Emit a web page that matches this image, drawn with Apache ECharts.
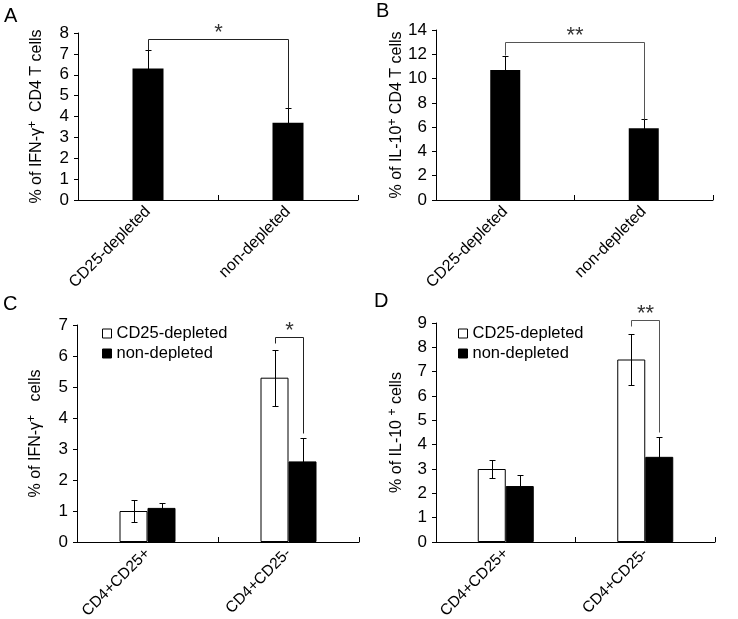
<!DOCTYPE html>
<html>
<head>
<meta charset="utf-8">
<script src="https://cdn.jsdelivr.net/npm/echarts@6/dist/echarts.min.js"></script>
<style>
html,body{margin:0;padding:0;background:#fff;}
#main{width:738px;height:619px;}
</style>
</head>
<body>
<div id="main"></div>
<script>
// ---- data ----
const catsAB = ['CD25-depleted', 'non-depleted'];
const aMean = [6.3, 3.7];
const aErr = [0.9, 0.7];
const bMean = [10.7, 5.9];
const bErr = [1.2, 0.8];

const catsCD = ['CD4+CD25+', 'CD4+CD25-'];
const seriesNames = ['CD25-depleted', 'non-depleted'];
const cDepleted = [1.0, 5.3];
const cDepletedErr = [0.36, 0.9];
const cNon = [1.1, 2.6];
const cNonErr = [0.15, 0.74];
const dDepleted = [3.0, 7.5];
const dDepletedErr = [0.35, 1.05];
const dNon = [2.3, 3.5];
const dNonErr = [0.44, 0.8];

// significance brackets: [leftCat, rightCat, level, leftEnd, rightEnd]
const bracketA = [0, 1, 7.7, 7.2, 4.4];
const bracketB = [0, 1, 13.0, 11.95, 6.7];
const bracketC = [1, 1, 6.62, 6.41, 3.52];
const bracketD = [1, 1, 9.14, 8.86, 4.53];
const sigA = '*', sigB = '**', sigC = '*', sigD = '**';

const yMaxA = 8, yMaxB = 14, yMaxC = 7, yMaxD = 9;
const yStepA = 1, yStepB = 2, yStepC = 1, yStepD = 1;

// ---- styles ----
const FONT = 'Liberation Sans, Arial, sans-serif';
const BW_AB = 31, BW_CD = 28;

function px(v){ return Math.round(v) + 0.5; }

function errRender(offset){
  return function(params, api){
    const i = api.value(0), m = api.value(1), e = api.value(2);
    const x = px(api.coord([i, m])[0] + offset);
    const top = px(api.coord([i, m + e])[1]);
    const bot = px(api.coord([i, m - e])[1]);
    return {type:'group', children:[
      {type:'line', shape:{x1:x, y1:top, x2:x, y2:bot}, style:{stroke:'#000', lineWidth:1}},
      {type:'line', shape:{x1:x-3, y1:top, x2:x+3, y2:top}, style:{stroke:'#000', lineWidth:1}},
      {type:'line', shape:{x1:x-3, y1:bot, x2:x+3, y2:bot}, style:{stroke:'#000', lineWidth:1}}
    ]};
  };
}

function bracketRender(offL, offR, label, color){
  return function(params, api){
    const li = api.value(0), ri = api.value(1), lev = api.value(2), le = api.value(3), re = api.value(4);
    const xl = px(api.coord([li, lev])[0] + offL);
    const xr = px(api.coord([ri, lev])[0] + offR);
    const y = px(api.coord([li, lev])[1]);
    const yl = px(api.coord([li, le])[1]);
    const yr = px(api.coord([ri, re])[1]);
    return {type:'group', children:[
      {type:'polyline', shape:{points:[[xl,yl],[xl,y],[xr,y],[xr,yr]]}, style:{stroke:color, fill:'none', lineWidth:1}},
      {type:'text', style:{text:label, x:(xl+xr)/2, y:y+4, align:'center', verticalAlign:'bottom', fontSize:22, fontFamily:FONT, fill:'#333'}}
    ]};
  };
}

function errData(cats, mean, err){ return cats.map((c,i)=>[i, mean[i], err[i]]); }

function xAx(idx, cats, fs){
  return {
    type:'category', gridIndex:idx, data:cats,
    axisLine:{show:true, lineStyle:{color:'#000', width:1}},
    axisTick:{show:true, inside:true, length:5, lineStyle:{color:'#000'}},
    axisLabel:{rotate:45, fontSize:fs, color:'#000', fontFamily:FONT, margin:9},
    splitLine:{show:false}
  };
}
function yAx(idx, max, step, name, gap){
  return {
    type:'value', gridIndex:idx, min:0, max:max, interval:step,
    name:name, nameLocation:'middle', nameRotate:90, nameGap:gap,
    nameTextStyle:{fontSize:16, color:'#000', fontFamily:FONT,
      rich:{sup:{fontSize:12, color:'#000', fontFamily:FONT, verticalAlign:'top', lineHeight:20},
            n:{fontSize:16, color:'#000', fontFamily:FONT, lineHeight:20}}},
    axisLine:{show:true, lineStyle:{color:'#000', width:1}},
    axisTick:{show:true, inside:false, length:4, lineStyle:{color:'#000'}},
    axisLabel:{fontSize:17, color:'#000', fontFamily:FONT, margin:9},
    splitLine:{show:false}
  };
}

const chart = echarts.init(document.getElementById('main'), null, {renderer:'canvas'});
const titleStyle = {fontSize:20, fontWeight:'normal', color:'#000', fontFamily:FONT};
const legendItems = [
  {name:seriesNames[0], itemStyle:{color:'#fff', borderColor:'#000', borderWidth:1}},
  {name:seriesNames[1], itemStyle:{color:'#000', borderColor:'#000', borderWidth:1}}
];
const legendBase = {orient:'vertical', icon:'rect', itemWidth:9, itemHeight:9, itemGap:3, padding:0,
  textStyle:{fontSize:16.5, color:'#000', fontFamily:FONT}, data:legendItems, selectedMode:false};

const gridBase = {outerBoundsMode:'none', containLabel:false};

const option = {
  animation:false,
  backgroundColor:'#fff',
  textStyle:{fontFamily:FONT},
  title:[
    {text:'A', left:4, top:6, padding:0, textStyle:titleStyle},
    {text:'B', left:376, top:1, padding:0, textStyle:titleStyle},
    {text:'C', left:3, top:294, padding:0, textStyle:titleStyle},
    {text:'D', left:374, top:291, padding:0, textStyle:titleStyle}
  ],
  legend:[
    Object.assign({left:102, top:325}, legendBase),
    Object.assign({left:458, top:325}, legendBase)
  ],
  grid:[
    Object.assign({left:78, top:33, width:280, height:167}, gridBase),
    Object.assign({left:436, top:30, width:277, height:170}, gridBase),
    Object.assign({left:77, top:325, width:282, height:217}, gridBase),
    Object.assign({left:436, top:323, width:279, height:219}, gridBase)
  ],
  xAxis:[xAx(0,catsAB,16), xAx(1,catsAB,16), xAx(2,catsCD,15.5), xAx(3,catsCD,15.5)],
  yAxis:[
    yAx(0, yMaxA, yStepA, '{n|% of IFN-γ}{sup|+}{n|  CD4 T cells}', 31),
    yAx(1, yMaxB, yStepB, '{n|% of IL-10}{sup|+}{n| CD4 T cells}', 29),
    yAx(2, yMaxC, yStepC, '{n|% of IFN-γ}{sup|+}{n|   cells}', 31),
    yAx(3, yMaxD, yStepD, '{n|% of IL-10 }{sup|+}{n| cells}', 29)
  ],
  series:[
    {type:'bar', xAxisIndex:0, yAxisIndex:0, data:aMean, barWidth:BW_AB, itemStyle:{color:'#000'}},
    {type:'custom', xAxisIndex:0, yAxisIndex:0, data:errData(catsAB,aMean,aErr), renderItem:errRender(0), z:5, clip:false},
    {type:'custom', xAxisIndex:0, yAxisIndex:0, data:[bracketA], renderItem:bracketRender(0,0,sigA,'#222'), z:5, clip:false},

    {type:'bar', xAxisIndex:1, yAxisIndex:1, data:bMean, barWidth:BW_AB-1, itemStyle:{color:'#000'}},
    {type:'custom', xAxisIndex:1, yAxisIndex:1, data:errData(catsAB,bMean,bErr), renderItem:errRender(0), z:5, clip:false},
    {type:'custom', xAxisIndex:1, yAxisIndex:1, data:[bracketB], renderItem:bracketRender(0,0,sigB,'#555'), z:5, clip:false},

    {name:seriesNames[0], type:'bar', xAxisIndex:2, yAxisIndex:2, data:cDepleted, barWidth:BW_CD, barGap:'0%',
      itemStyle:{color:'#fff', borderColor:'#000', borderWidth:1}},
    {name:seriesNames[1], type:'bar', xAxisIndex:2, yAxisIndex:2, data:cNon, barWidth:BW_CD, barGap:'0%',
      itemStyle:{color:'#000', borderColor:'#000', borderWidth:1}},
    {type:'custom', xAxisIndex:2, yAxisIndex:2, data:errData(catsCD,cDepleted,cDepletedErr), renderItem:errRender(-BW_CD/2), z:5, clip:false},
    {type:'custom', xAxisIndex:2, yAxisIndex:2, data:errData(catsCD,cNon,cNonErr), renderItem:errRender(BW_CD/2), z:5, clip:false},
    {type:'custom', xAxisIndex:2, yAxisIndex:2, data:[bracketC], renderItem:bracketRender(-BW_CD/2,BW_CD/2,sigC,'#222'), z:5, clip:false},

    {name:seriesNames[0], type:'bar', xAxisIndex:3, yAxisIndex:3, data:dDepleted, barWidth:BW_CD, barGap:'0%',
      itemStyle:{color:'#fff', borderColor:'#000', borderWidth:1}},
    {name:seriesNames[1], type:'bar', xAxisIndex:3, yAxisIndex:3, data:dNon, barWidth:BW_CD, barGap:'0%',
      itemStyle:{color:'#000', borderColor:'#000', borderWidth:1}},
    {type:'custom', xAxisIndex:3, yAxisIndex:3, data:errData(catsCD,dDepleted,dDepletedErr), renderItem:errRender(-BW_CD/2), z:5, clip:false},
    {type:'custom', xAxisIndex:3, yAxisIndex:3, data:errData(catsCD,dNon,dNonErr), renderItem:errRender(BW_CD/2), z:5, clip:false},
    {type:'custom', xAxisIndex:3, yAxisIndex:3, data:[bracketD], renderItem:bracketRender(-BW_CD/2,BW_CD/2,sigD,'#555'), z:5, clip:false}
  ]
};
chart.setOption(option);
</script>
</body>
</html>
